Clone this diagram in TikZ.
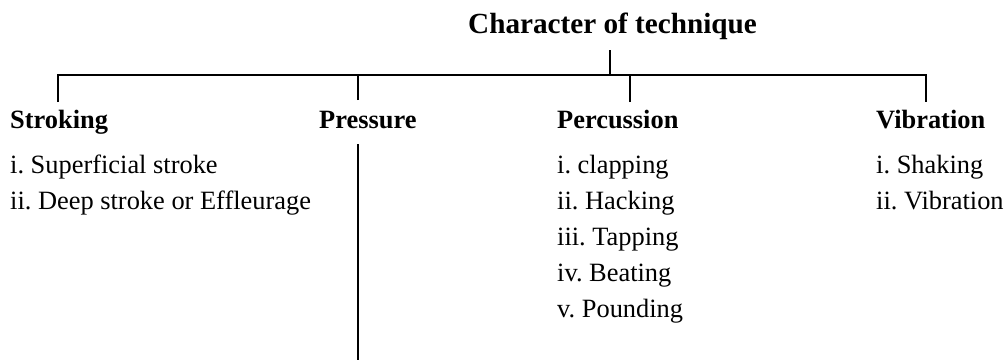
\documentclass[tikz,border=0pt]{standalone}
\usepackage{fontspec}
\setmainfont{Liberation Serif}
\frenchspacing
\begin{document}
\begin{tikzpicture}[x=1pt,y=-1pt,
  lbl/.style={anchor=base west,inner sep=0pt,font=\fontsize{26.4}{30}\selectfont},
  head/.style={lbl,font=\fontsize{26.4}{30}\selectfont\bfseries},
  ttl/.style={anchor=base west,inner sep=0pt,font=\fontsize{29.2}{34}\selectfont\bfseries},
  conn/.style={draw=black,line width=1.5pt}]
\useasboundingbox (0,0) rectangle (1006,360);
% title
\node[ttl] (title) at (468,33) {Character of technique};
% headings
\node[head] (stroking) at (10,128) {Stroking};
\node[head] (pressure) at (319,128) {Pressure};
\node[head] (percussion) at (557,128) {Percussion};
\node[head] (vibration) at (876,128) {Vibration};
% items
\node[lbl] (s1) at (10,173) {i. Superficial stroke};
\node[lbl] (s2) at (10,209) {ii. Deep stroke or Effleurage};
\node[lbl] (p1) at (557,173) {i. clapping};
\node[lbl] (p2) at (557,209) {ii. Hacking};
\node[lbl] (p3) at (557,245) {iii. Tapping};
\node[lbl] (p4) at (557,281) {iv. Beating};
\node[lbl] (p5) at (557,317) {v. Pounding};
\node[lbl] (v1) at (876,173) {i. Shaking};
\node[lbl] (v2) at (876,209) {ii. Vibration};
% connector points
\coordinate (t0) at (610,50);
\coordinate (t1) at (610,75);
\coordinate (sd) at (58,102);
\coordinate (prd) at (358,100);
\coordinate (pcd) at (630,102);
\coordinate (vd) at (926,102);
\coordinate (pl0) at (358,144);
\coordinate (pl1) at (358,360);
% connectors
\draw[conn] (t0) -- (t1);
\draw[conn] (sd) |- (vd |- t1) -- (vd);
\draw[conn] (prd) -- (prd |- t1);
\draw[conn] (pcd) -- (pcd |- t1);
\draw[conn] (pl0) -- (pl1);
\end{tikzpicture}
\end{document}
